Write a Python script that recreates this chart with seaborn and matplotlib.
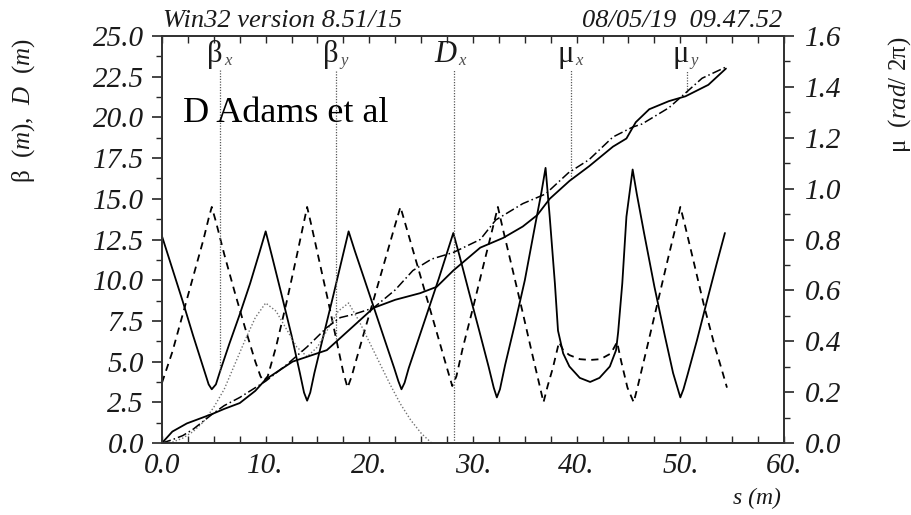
import numpy as np
import matplotlib
matplotlib.use("Agg")
import matplotlib.pyplot as plt
import seaborn as sns
from matplotlib.ticker import MultipleLocator, FixedFormatter, FixedLocator

# ---- data ----
# beta_x (solid)
s_bx = [0, 1, 2, 3, 4, 4.5, 4.8, 5.2, 5.6, 6.5, 7.5, 8.5, 9.4, 10.0, 10.6, 11.5, 12.5, 13.3,
        13.7, 14.0, 14.3, 14.7, 15.5, 16.5, 17.4, 18.0, 18.6, 19.5, 20.5, 21.5, 22.4, 22.8,
        23.1, 23.4, 23.8, 24.7, 25.7, 26.7, 27.5, 28.1, 28.7, 29.6, 30.6, 31.5, 32.0, 32.3,
        32.6, 33.1, 34.0, 35.0, 36.0, 36.6, 37.0, 37.4, 37.9, 38.2, 38.7, 39.3, 40.3, 41.3,
        42.2, 43.2, 43.8, 44.0, 44.4, 44.8, 45.4, 45.8, 46.5, 47.5, 48.5, 49.3, 50.0, 50.3,
        50.7, 51.6, 52.6, 53.5, 54.3]
beta_x = [12.7, 10.7, 8.7, 6.6, 4.6, 3.6, 3.3, 3.6, 4.4, 6.1, 7.9, 9.8, 11.7, 13.0, 11.5, 9.2, 6.6, 4.3,
          3.1, 2.6, 3.1, 4.3, 6.4, 9.0, 11.4, 13.0, 11.8, 10.1, 8.2, 6.3, 4.6, 3.8,
          3.3, 3.7, 4.6, 6.3, 8.2, 10.1, 11.7, 12.9, 11.5, 9.3, 6.9, 4.7, 3.4, 2.8,
          3.3, 4.8, 7.2, 10.0, 13.4, 15.4, 16.9, 13.9, 9.8, 6.9, 5.5, 4.7, 4.0, 3.75,
          4.0, 4.7, 5.7, 6.8, 9.8, 13.9, 16.8, 15.3, 12.9, 9.6, 6.6, 4.3, 2.8, 3.3,
          4.2, 6.3, 8.8, 11.0, 12.9]

# beta_y (dashed)
s_by = [0, 1, 2, 3, 4, 4.5, 4.8, 5.2, 6, 7, 8, 9, 9.5, 9.8, 10.2, 11, 12, 13, 13.6, 14.0,
        14.4, 15.2, 16, 16.8, 17.5, 17.9, 18.3, 18.6, 19.5, 20.5, 21.5, 22.4, 23.0, 23.5,
        24.5, 25.5, 26.5, 27.4, 28.0, 28.4, 29, 30, 31, 31.9, 32.4, 32.9, 33.8, 34.8, 35.7,
        36.4, 36.8, 37.2, 37.7, 38.3, 38.7, 39.3, 40.3, 41.3, 42.3, 43.3, 43.9, 44.3, 44.9,
        45.5, 45.9, 46.8, 47.8, 48.8, 49.6, 50.0, 50.4, 51.3, 52.3, 53.3, 54.0, 54.5]
beta_y = [3.7, 5.6, 7.9, 10.2, 12.5, 13.8, 14.5, 13.6, 11.6, 9.3, 7.1, 5.0, 4.1, 3.8, 4.1, 5.9, 8.6, 11.5, 13.3, 14.5,
          13.4, 11.1, 8.8, 6.4, 4.3, 3.4, 4.1, 4.8, 6.8, 9.0, 11.2, 13.2, 14.5, 13.4,
          11.2, 9.0, 6.8, 4.8, 3.5, 4.1, 5.8, 8.3, 10.9, 13.2, 14.5, 13.1, 10.7, 8.0, 5.5,
          3.6, 2.5, 3.5, 4.6, 6.2, 5.7, 5.4, 5.15, 5.1, 5.15, 5.5, 6.2, 5.0, 3.4,
          2.5, 3.5, 5.9, 8.6, 11.3, 13.4, 14.5, 13.5, 11.1, 8.4, 6.0, 4.5, 3.4]

# dispersion D (dotted)
s_d = [0, 1, 2, 3, 4, 5, 6, 7, 8, 9, 10, 11, 12, 13, 14, 15, 16, 17, 18, 19, 20, 21, 22, 23, 24, 25, 26]
disp = [0.0, 0.05, 0.3, 0.7, 1.3, 2.2, 3.3, 4.8, 6.3, 7.7, 8.6, 8.1, 7.0, 5.9, 5.3, 5.9, 7.0, 8.1, 8.6,
        7.5, 6.2, 4.9, 3.6, 2.4, 1.4, 0.6, 0.0]

# phase advance mu_x (solid) and mu_y (dash-dot), rad/2pi
s_mux = [0, 1, 2.4, 4.9, 6, 7.5, 9, 10, 12.6, 14, 15.9, 17.8, 19.1, 20.4, 22.5, 24.9, 26.5, 28.1,
         30.7, 32.9, 34.8, 36.2, 37.4, 39.3, 41.2, 43.5, 44.8, 45.7, 47.0, 48.9, 50.5, 52.7, 54.4]
mu_x = [0, 0.045, 0.077, 0.115, 0.134, 0.157, 0.205, 0.250, 0.320, 0.339, 0.365, 0.435, 0.483, 0.531,
        0.563, 0.589, 0.614, 0.678, 0.768, 0.806, 0.851, 0.896, 0.960, 1.030, 1.088, 1.165, 1.197,
        1.261, 1.312, 1.344, 1.363, 1.408, 1.472]
s_muy = [0, 1, 2, 3, 4.9, 6, 7.5, 10, 12, 14, 15.9, 17.2, 18.5, 20.4, 22.5, 24.2, 26, 28.1, 30.7,
         32.2, 34.8, 37.0, 39.2, 41.2, 43.5, 45.4, 46.3, 48.9, 50.5, 52.1, 54.4]
mu_y = [0, 0.013, 0.029, 0.054, 0.115, 0.147, 0.179, 0.243, 0.307, 0.378, 0.454, 0.493, 0.506, 0.531,
        0.602, 0.678, 0.723, 0.749, 0.800, 0.877, 0.941, 0.979, 1.062, 1.114, 1.203, 1.242, 1.254,
        1.318, 1.376, 1.434, 1.478]

# marker labels at the top
mark_s = [5.6, 16.8, 28.2, 39.5, 50.6]
mark_main = ["β", "β", "D", "μ", "μ"]
mark_sub = ["x", "y", "x", "x", "y"]

left_ticks = [0, 2.5, 5, 7.5, 10, 12.5, 15, 17.5, 20, 22.5, 25]
left_labels = ["0.0", "2.5", "5.0", "7.5", "10.0", "12.5", "15.0", "17.5", "20.0", "22.5", "25.0"]
right_ticks = [0, 0.2, 0.4, 0.6, 0.8, 1.0, 1.2, 1.4, 1.6]
right_labels = ["0.0", "0.2", "0.4", "0.6", "0.8", "1.0", "1.2", "1.4", "1.6"]
x_ticks = [0, 10, 20, 30, 40, 50, 60]
x_labels = ["0.0", "10.", "20.", "30.", "40.", "50.", "60."]

# ---- plot ----
sns.set_style("ticks")
plt.rcParams['font.family'] = ['Liberation Serif', 'DejaVu Serif']
plt.rcParams['mathtext.fontset'] = 'custom'
plt.rcParams['mathtext.rm'] = 'Liberation Serif'
plt.rcParams['mathtext.it'] = 'Liberation Serif:italic'

ink = "0.1"
fig = plt.figure(figsize=(9.12, 5.15), dpi=100)
ax = fig.add_axes([162/912, 1-443/515, 622/912, 407/515])
ax2 = ax.twinx()

sns.lineplot(x=s_bx, y=beta_x, ax=ax, color="k", lw=1.3, estimator=None, sort=False)
sns.lineplot(x=s_by, y=beta_y, ax=ax, color="k", lw=1.3, linestyle=(0, (4, 3)), estimator=None, sort=False)
sns.lineplot(x=s_d, y=disp, ax=ax, color="0.45", lw=1.0, linestyle=(0, (1, 1.5)), estimator=None, sort=False)
sns.lineplot(x=s_mux, y=mu_x, ax=ax2, color="k", lw=1.3, estimator=None, sort=False)
sns.lineplot(x=s_muy, y=mu_y, ax=ax2, color="k", lw=1.1, linestyle=(0, (6, 2, 1, 2)), estimator=None, sort=False)

ax.set_xlim(0, 60)
ax.set_ylim(0, 25)
ax2.set_ylim(0, 1.6)
scale = 25 / 1.6

# marker lines from the label down to the curve they mark
ends = [np.interp(mark_s[0], s_bx, beta_x),
        np.interp(mark_s[1], s_by, beta_y),
        np.interp(mark_s[2], s_d, disp),
        np.interp(mark_s[3], s_mux, mu_x) * scale,
        np.interp(mark_s[4], s_muy, mu_y) * scale]
top = 22.9
for s, e, m, sub in zip(mark_s, ends, mark_main, mark_sub):
    ax.plot([s, s], [e, top], color="0.35", lw=0.9, linestyle=(0, (1, 1.2)))
    style = "italic" if m == "D" else "normal"
    ax.annotate(m, xy=(s, 23.0), xytext=(1.5, 0), textcoords="offset points",
                ha="right", va="bottom", fontsize=22, fontstyle=style, color=ink)
    ax.annotate(sub, xy=(s, 23.0), xytext=(3, 0), textcoords="offset points",
                ha="left", va="bottom", fontsize=12, fontstyle="italic", color="0.3")

ax.text(2.0, 19.7, "D Adams et al", fontsize=26, va="baseline", ha="left", color="k")

# ticks
ax.yaxis.set_major_locator(FixedLocator(left_ticks))
ax.yaxis.set_major_formatter(FixedFormatter(left_labels))
ax.yaxis.set_minor_locator(MultipleLocator(1.25))
ax.xaxis.set_major_locator(FixedLocator(x_ticks))
ax.xaxis.set_major_formatter(FixedFormatter(x_labels))
ax.xaxis.set_minor_locator(MultipleLocator(2.5))
ax2.yaxis.set_major_locator(FixedLocator(right_ticks))
ax2.yaxis.set_major_formatter(FixedFormatter(right_labels))
ax2.yaxis.set_minor_locator(MultipleLocator(0.1))

ax.tick_params(axis="y", which="major", direction="out", length=7, width=1.2, pad=6, labelsize=21)
ax.tick_params(axis="y", which="minor", direction="out", length=4, width=1.0)
ax.tick_params(axis="x", which="both", direction="in", length=5, width=1.0, top=True, bottom=True,
               pad=7, labelsize=21)
ax2.tick_params(axis="y", which="major", direction="out", length=7, width=1.2, pad=8, labelsize=21)
ax2.tick_params(axis="y", which="minor", direction="out", length=4, width=1.0)
for lab in ax.get_xticklabels() + ax.get_yticklabels() + ax2.get_yticklabels():
    lab.set_fontstyle("italic")
    lab.set_color(ink)

for a in (ax, ax2):
    for sp in a.spines.values():
        sp.set_visible(True)
        sp.set_linewidth(1.3)
        sp.set_color("0.2")
ax.set_xlabel("")
ax.set_ylabel("")
ax2.set_ylabel("")

fig.text(163/912, 1-27/515, "Win32 version 8.51/15", fontsize=19, fontstyle="italic",
         ha="left", va="baseline", color=ink)
fig.text(782/912, 1-27/515, "08/05/19  09.47.52", fontsize=19, fontstyle="italic",
         ha="right", va="baseline", color=ink)
fig.text(24/912, 1-111/515, "β  ($m$),  $D$  ($m$)", fontsize=18, rotation=90, ha="center",
         va="center", color=ink)
fig.text(900/912, 1-95/515, "μ  ($rad$/ 2π)", fontsize=18, rotation=90, ha="center", va="center",
         color=ink)
fig.text(757/912, 1-498/515, "s (m)", fontsize=17, fontstyle="italic", ha="center", va="center",
         color=ink)

fig.savefig("out.png", dpi=100)
